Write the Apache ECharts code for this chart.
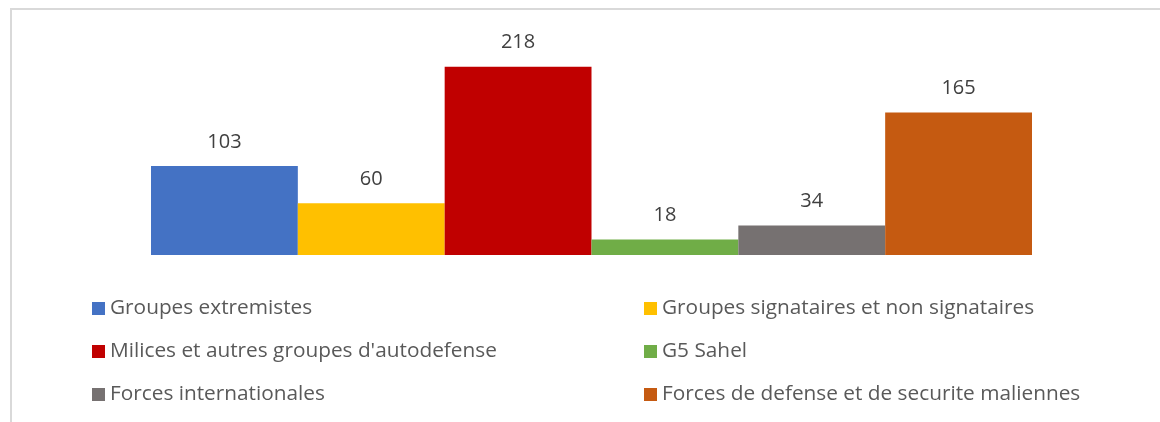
<!DOCTYPE html>
<html>
<head>
<meta charset="utf-8">
<script src="https://cdn.jsdelivr.net/npm/echarts@6/dist/echarts.min.js"></script>
<style>
  html, body { margin: 0; padding: 0; background: #fff; }
  #echartDiv { width: 1160px; height: 422px; }
</style>
</head>
<body>
<div id="echartDiv"></div>
<script>
// données
const seriesNames = [
    'Groupes extremistes',
    'Groupes signataires et non signataires',
    "Milices et autres groupes d'autodefense",
    'G5 Sahel',
    'Forces internationales',
    'Forces de defense et de securite maliennes'
];
const seriesValues = [103, 60, 218, 18, 34, 165];
const seriesColors = ['#4472c4', '#ffc000', '#c00000', '#70ad47', '#767171', '#c55a11'];
const categories = [''];

const fontFamily = "'Open Sans', 'Noto Sans', sans-serif";

let legendStyle = {
    orient: 'vertical',
    top: 298,
    padding: 0,
    itemWidth: 13,
    itemHeight: 13,
    itemGap: 22,
    icon: 'rect',
    textStyle: { color: '#595959', fontSize: 20.8, fontFamily: fontFamily, lineHeight: 21 }
};

let option = {
    animation: false,
    graphic: [{
        type: 'rect',
        shape: { x: 11, y: 9, width: 1300, height: 600 },
        style: { fill: 'none', stroke: '#d9d9d9', lineWidth: 2 },
        silent: true
    }],
    legend: [
        Object.assign({}, legendStyle, { left: 92, data: [seriesNames[0], seriesNames[2], seriesNames[4]] }),
        Object.assign({}, legendStyle, { left: 644, data: [seriesNames[1], seriesNames[3], seriesNames[5]] })
    ],
    grid: {
        left: 151,
        right: 128,
        top: 39,
        bottom: 167
    },
    xAxis: {
        type: 'category',
        data: categories,
        show: false
    },
    yAxis: {
        type: 'value',
        min: 0,
        max: 250,
        show: false
    },
    series: seriesNames.map((name, i) => ({
        name: name,
        type: 'bar',
        barGap: '0%',
        barCategoryGap: '0%',
        itemStyle: { color: seriesColors[i] },
        label: {
            show: true,
            position: 'top',
            distance: 14,
            color: '#404040',
            fontSize: 20,
            fontFamily: fontFamily
        },
        data: [seriesValues[i]]
    }))
};

let myChart = echarts.init(document.getElementById('echartDiv'));
myChart.setOption(option);
</script>
</body>
</html>
